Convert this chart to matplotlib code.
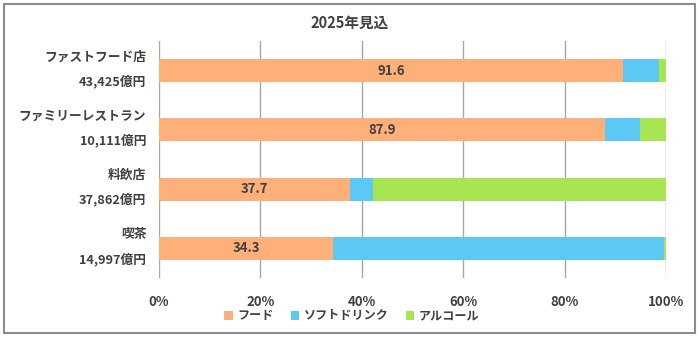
import matplotlib
matplotlib.use("Agg")
import matplotlib.pyplot as plt
import matplotlib.transforms as mtransforms
from matplotlib.patches import Rectangle
import numpy as np

plt.rcParams['font.family'] = ['Noto Sans CJK JP', 'DejaVu Sans']

categories = ['ファストフード店', 'ファミリーレストラン', '料飲店', '喫茶']
amounts = ['43,425億円', '10,111億円', '37,862億円', '14,997億円']
series_names = ['フード', 'ソフトドリンク', 'アルコール']
food = [91.6, 87.9, 37.7, 34.3]
soft = [7.1, 7.0, 4.5, 65.4]
alcohol = [1.3, 5.1, 57.8, 0.3]
colors = ['#FFB07A', '#5BC9F4', '#A7E650']
text_col = '#404040'

fig = plt.figure(figsize=(7.0, 3.37), dpi=100)
ax = fig.add_axes([159 / 700, 1 - 278 / 337, 507 / 700, 237 / 337])

# frame around the whole chart
fig.patches.append(Rectangle((4 / 700, 4 / 337), 691 / 700, 329 / 337,
                             transform=fig.transFigure, fill=False,
                             edgecolor='#8c8c8c', linewidth=1.5))

y = np.arange(len(categories))
left = np.zeros(len(categories))
for vals, name, c in zip([food, soft, alcohol], series_names, colors):
    ax.barh(y, vals, left=left, height=0.39, color=c, label=name, zorder=3)
    left += np.array(vals)

for i, v in enumerate(food):
    ax.text(v / 2, i, f'{v:.1f}', ha='center', va='center', fontsize=9.5,
            fontweight='bold', color=text_col, zorder=4)

ax.set_xlim(0, 100)
ax.set_ylim(3.5, -0.5)
ax.set_xticks(np.arange(0, 101, 20))
ax.set_xticklabels([f'{t}%' for t in range(0, 101, 20)])
ax.set_yticks([])
ax.tick_params(axis='x', length=0, labelsize=9.5, labelcolor=text_col, pad=12)
for lab in ax.get_xticklabels():
    lab.set_fontweight('bold')

# two-line category labels
trans = mtransforms.blended_transform_factory(ax.transAxes, ax.transData)
for i, (c, a) in enumerate(zip(categories, amounts)):
    ax.text(-0.025, i - 0.23, c, transform=trans, ha='right', va='center',
            fontsize=9.2, fontweight='bold', color=text_col)
    ax.text(-0.025, i + 0.18, a, transform=trans, ha='right', va='center',
            fontsize=9.2, fontweight='bold', color=text_col)

ax.grid(axis='x', color='#a6a6a6', linewidth=1.0, zorder=0)
for s in ax.spines.values():
    s.set_visible(False)

fig.text(350 / 700, 1 - 23 / 337, '2025年見込', ha='center', va='center',
         fontsize=10.5, fontweight='bold', color=text_col)

leg = fig.legend(loc='center', bbox_to_anchor=(352 / 700, 1 - 316 / 337),
                 ncol=3, frameon=False, fontsize=8.7, handlelength=0.7,
                 handleheight=0.7, handletextpad=0.4, columnspacing=1.4)
for t in leg.get_texts():
    t.set_color(text_col)
    t.set_fontweight('bold')

fig.savefig('out.png', dpi=100)
